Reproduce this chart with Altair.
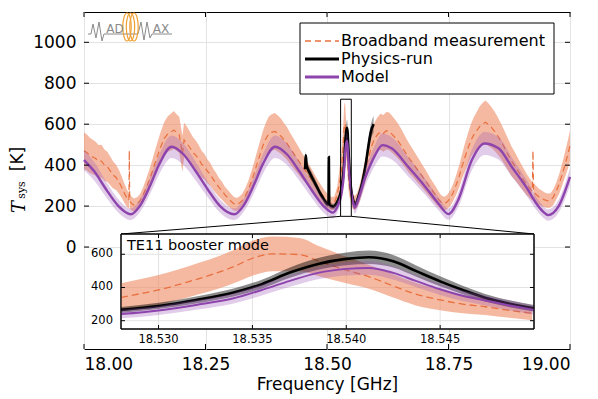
import altair as alt
import pandas as pd

# ---------------- data ----------------
model_f = [18.000, 18.021, 18.046, 18.071, 18.096, 18.116, 18.136, 18.156, 18.180, 18.205,
           18.230, 18.255, 18.280, 18.309, 18.329, 18.349, 18.369, 18.393, 18.418, 18.443,
           18.468, 18.493, 18.512, 18.520,
           18.5280, 18.5300, 18.5320, 18.5340, 18.5355, 18.5370, 18.5385, 18.5400, 18.5412,
           18.5425, 18.5437, 18.5450, 18.5462, 18.5474, 18.5487, 18.5500,
           18.553, 18.557, 18.567, 18.578, 18.589, 18.599, 18.614, 18.633, 18.667, 18.702,
           18.729, 18.750, 18.770, 18.798, 18.824, 18.853, 18.880, 18.914, 18.930, 18.945,
           18.955, 18.976, 19.000]
model_v = [425, 370, 280, 200, 160, 205, 300, 410, 490, 452,
           370, 280, 200, 160, 205, 300, 410, 490, 452, 370,
           280, 200, 168, 190,
           240, 262, 295, 335, 385, 440, 488, 512, 518,
           488, 440, 389, 350, 322, 292, 264,
           225, 192, 250, 335, 400, 449, 498, 482, 392, 295,
           213, 161, 230, 425, 506, 482, 392, 278, 215, 172,
           156, 197, 343]
model_e = [50, 45, 38, 32, 28, 32, 40, 48, 55, 52,
           45, 38, 32, 28, 32, 40, 48, 55, 52, 45,
           38, 32, 28, 28,
           26, 27, 29, 31, 33, 35, 38, 40, 41,
           40, 37, 34, 32, 30, 29, 28,
           28, 28, 32, 40, 46, 50, 56, 55, 47, 40,
           32, 28, 34, 50, 56, 55, 47, 38, 32, 29,
           28, 31, 42]

bb_f = [18.000, 18.006, 18.012, 18.018, 18.024, 18.030, 18.036, 18.042, 18.048, 18.054,
        18.060, 18.066, 18.072, 18.078, 18.084, 18.090, 18.0925, 18.0932, 18.0940, 18.098,
        18.103, 18.110, 18.116, 18.122, 18.128, 18.134, 18.140, 18.146, 18.152, 18.158,
        18.165, 18.172, 18.178, 18.185, 18.190, 18.196, 18.2025, 18.206, 18.212, 18.218,
        18.224, 18.230, 18.236, 18.242, 18.248, 18.254, 18.260, 18.266, 18.272, 18.278,
        18.284, 18.290, 18.296, 18.302, 18.308, 18.314, 18.320, 18.326, 18.332, 18.338,
        18.344, 18.350, 18.356, 18.362, 18.368, 18.374, 18.380, 18.386, 18.393, 18.400,
        18.406, 18.412, 18.418, 18.424, 18.430, 18.436, 18.442, 18.448, 18.455, 18.462,
        18.468, 18.475, 18.482, 18.489, 18.496, 18.503, 18.509, 18.515, 18.521,
        18.5280, 18.5290, 18.5300, 18.5310, 18.5322, 18.5333, 18.5340, 18.5350, 18.5361,
        18.5375, 18.5386, 18.5400, 18.5413, 18.5425, 18.5437, 18.5450, 18.5462, 18.5474,
        18.5487, 18.5499,
        18.553, 18.557, 18.562, 18.568, 18.574, 18.580, 18.586, 18.592, 18.598, 18.604,
        18.610, 18.616, 18.622, 18.628, 18.634, 18.640, 18.646, 18.652, 18.658, 18.664,
        18.670, 18.676, 18.682, 18.688, 18.694, 18.700, 18.706, 18.712, 18.718, 18.724,
        18.730, 18.736, 18.742, 18.748, 18.754, 18.760, 18.766, 18.772, 18.778, 18.784,
        18.790, 18.796, 18.802, 18.808, 18.814, 18.820, 18.826, 18.832, 18.838, 18.844,
        18.850, 18.856, 18.862, 18.868, 18.874, 18.880, 18.886, 18.892, 18.898, 18.904,
        18.910, 18.916, 18.9225, 18.9238, 18.9250, 18.930, 18.936, 18.942, 18.948, 18.954,
        18.960, 18.966, 18.972, 18.978, 18.984, 18.990, 18.996, 19.000]
bb_v = [470, 462, 448, 440, 432, 418, 420, 400, 392, 372,
        352, 340, 318, 290, 258, 232, 228, 470, 225, 212,
        205, 212, 228, 255, 290, 325, 365, 410, 450, 490,
        530, 552, 560, 572, 560, 548, 455, 523, 505, 485,
        462, 448, 430, 405, 392, 370, 355, 330, 312, 290,
        275, 255, 240, 225, 212, 208, 215, 228, 250, 280,
        318, 360, 405, 450, 495, 528, 552, 560, 565, 552,
        540, 522, 505, 482, 462, 440, 420, 398, 376, 352,
        330, 305, 280, 258, 238, 222, 212, 215, 255,
        340, 362, 385, 415, 455, 495, 525, 576, 602,
        598, 556, 505, 461, 409, 360, 325, 300, 284,
        262, 245,
        222, 215, 228, 268, 325, 385, 440, 495, 530, 550,
        563, 555, 568, 565, 550, 535, 518, 498, 475, 452,
        430, 412, 392, 372, 352, 332, 312, 290, 272, 252,
        232, 215, 212, 222, 240, 268, 305, 345, 395, 440,
        482, 520, 548, 568, 588, 600, 610, 598, 585, 568,
        548, 525, 500, 472, 445, 418, 398, 375, 352, 330,
        308, 290, 272, 470, 268, 258, 245, 238, 230, 226,
        228, 245, 275, 310, 355, 405, 455, 495]
bb_e = [90, 88, 86, 84, 82, 80, 80, 76, 74, 70,
        66, 62, 58, 52, 46, 40, 38, 20, 38, 34,
        32, 32, 34, 38, 44, 50, 56, 62, 68, 74,
        80, 86, 90, 92, 90, 88, 88, 84, 82, 78,
        75, 72, 68, 65, 62, 58, 56, 52, 50, 46,
        44, 40, 38, 36, 34, 32, 32, 34, 38, 42,
        48, 54, 60, 66, 72, 78, 84, 88, 90, 88,
        85, 82, 80, 76, 73, 70, 67, 64, 60, 56,
        52, 48, 44, 40, 36, 34, 32, 32, 40,
        85, 88, 90, 92, 95, 98, 100, 105, 105,
        100, 90, 80, 72, 70, 68, 62, 55, 50,
        45, 42,
        36, 34, 36, 42, 50, 58, 66, 74, 80, 84,
        88, 90, 92, 92, 90, 88, 85, 82, 78, 75,
        72, 68, 65, 62, 58, 55, 52, 48, 45, 42,
        38, 35, 34, 35, 38, 42, 48, 54, 60, 68,
        74, 80, 86, 92, 98, 104, 106, 104, 100, 96,
        92, 88, 84, 80, 76, 72, 68, 64, 60, 56,
        52, 48, 45, 20, 45, 42, 40, 38, 36, 35,
        35, 38, 42, 48, 55, 62, 70, 76]

phys_f = [18.455, 18.4565, 18.458, 18.465, 18.472, 18.479, 18.486, 18.493, 18.499, 18.503,
          18.5038, 18.5046, 18.509, 18.513, 18.518, 18.523,
          18.5280, 18.5300, 18.5320, 18.5340, 18.5355, 18.5370, 18.5385, 18.5400, 18.5412,
          18.5425, 18.5437, 18.5450, 18.5462, 18.5474, 18.5487, 18.5500,
          18.553, 18.558, 18.565, 18.570, 18.575, 18.580, 18.585, 18.590, 18.596]
phys_v = [380, 448, 400, 360, 327, 295, 262, 235, 213, 208,
          440, 208, 200, 197, 208, 230,
          265, 289, 325, 370, 420, 490, 542, 572, 582,
          558, 500, 437, 385, 338, 302, 275,
          238, 205, 250, 290, 343, 410, 490, 560, 600]
phys_e = [25, 20, 25, 24, 22, 20, 18, 16, 15, 15,
          10, 15, 14, 14, 15, 17,
          18, 19, 21, 24, 27, 31, 35, 38, 40,
          38, 34, 30, 26, 23, 21, 20,
          18, 16, 18, 22, 26, 30, 34, 38, 40]

x_domain = [18.0, 19.0]
y_domain = [-498, 1148]
x_ticks_main = [18.0, 18.25, 18.5, 18.75, 19.0]
y_ticks_main = [0, 200, 400, 600, 800, 1000]
inset_x_domain = [18.528, 18.550]
inset_y_domain = [150, 722]
x_ticks_inset = [18.530, 18.535, 18.540, 18.545]
y_ticks_inset = [200, 400, 600]
legend_labels = ["Broadband measurement", "Physics-run", "Model"]
inset_title = "TE11 booster mode"
x_title = "Frequency [GHz]"

# ---------------- styling ----------------
FONT = "DejaVu Sans"
C_BB = "#E8703F"
C_BB_BAND = "#EE8A62"
C_MODEL = "#8E44AD"
C_MODEL_BAND = "#9B59B6"
C_PHYS = "#000000"
W, H = 486, 337
IL, IR, IT, IB = 37, 450, 222, 317  # inset frame (pixels within plot area)


def mk(f, v, e):
    return pd.DataFrame({"f": f, "v": v, "lo": [a - b for a, b in zip(v, e)],
                         "hi": [a + b for a, b in zip(v, e)]})


df_model = mk(model_f, model_v, model_e)
df_bb = mk(bb_f, bb_v, bb_e)
df_phys = mk(phys_f, phys_v, phys_e)

MX = alt.Scale(domain=x_domain, nice=False, zero=False)
MY = alt.Scale(domain=y_domain, nice=False, zero=False)
IX = alt.Scale(domain=inset_x_domain, range=[IL, IR], nice=False, zero=False)
IY = alt.Scale(domain=inset_y_domain, range=[IB, IT], nice=False, zero=False)
inset_filter = alt.FieldRangePredicate(field="f", range=[18.5279, 18.5501])


def band(df, color, opacity, xs, ys, interp, filt=False, axes=False):
    c = alt.Chart(df)
    if filt:
        c = c.transform_filter(inset_filter)
    if axes:
        xax = alt.Axis(values=x_ticks_main, format=".2f", title=x_title, grid=True,
                       ticks=False, domain=False, labelFontSize=17, titleFontSize=17,
                       labelPadding=7, titlePadding=4, gridColor="#e3e3e3",
                       labelColor="black", titleColor="black", titleFontWeight="normal",
                       labelFont=FONT, titleFont=FONT)
        yax = alt.Axis(values=y_ticks_main, format="d", title=None, grid=True, ticks=False,
                       domain=False, labelFontSize=17, labelPadding=8,
                       gridColor="#e3e3e3", labelColor="black", labelFont=FONT)
    else:
        xax = None
        yax = None
    return c.mark_area(color=color, opacity=opacity, interpolate=interp).encode(
        x=alt.X("f:Q", scale=xs, axis=xax),
        y=alt.Y("lo:Q", scale=ys, axis=yax),
        y2="hi:Q",
    )


def line(df, color, width, xs, ys, interp, dash=None, filt=False):
    c = alt.Chart(df)
    if filt:
        c = c.transform_filter(inset_filter)
    kw = dict(color=color, strokeWidth=width, interpolate=interp)
    if dash:
        kw["strokeDash"] = dash
    return c.mark_line(**kw).encode(
        x=alt.X("f:Q", scale=xs, axis=None),
        y=alt.Y("v:Q", scale=ys, axis=None),
    )


def one(label):
    return pd.DataFrame({"label": [label]})


layers = []
# ---- main plot ----
layers.append(band(df_bb, C_BB_BAND, 0.6, MX, MY, "linear", axes=True))
layers.append(line(df_bb, C_BB, 1.2, MX, MY, "linear", dash=[6, 4]))
layers.append(band(df_phys, "#000000", 0.35, MX, MY, "monotone"))
layers.append(line(df_phys, C_PHYS, 2.6, MX, MY, "monotone"))
layers.append(band(df_model, C_MODEL_BAND, 0.3, MX, MY, "monotone"))
layers.append(line(df_model, C_MODEL, 2.4, MX, MY, "monotone"))

# zoom box and connectors
box_df = pd.DataFrame({"x1": [inset_x_domain[0]], "x2": [inset_x_domain[1]],
                       "y1": [inset_y_domain[0]], "y2": [inset_y_domain[1]]})
layers.append(alt.Chart(box_df).mark_rect(fill=None, stroke="black", strokeWidth=1).encode(
    x=alt.X("x1:Q", scale=MX, axis=None), x2="x2:Q",
    y=alt.Y("y1:Q", scale=MY, axis=None), y2="y2:Q"))
layers.append(alt.Chart(box_df).mark_rule(color="black", strokeWidth=1).encode(
    x=alt.X("x1:Q", scale=MX, axis=None), y=alt.Y("y1:Q", scale=MY, axis=None),
    x2=alt.value(IL), y2=alt.value(IT)))
layers.append(alt.Chart(box_df).mark_rule(color="black", strokeWidth=1).encode(
    x=alt.X("x2:Q", scale=MX, axis=None), y=alt.Y("y1:Q", scale=MY, axis=None),
    x2=alt.value(IR), y2=alt.value(IT)))

# main inward ticks
xt = pd.DataFrame({"t": x_ticks_main})
yt = pd.DataFrame({"t": y_ticks_main})
for y0, y1 in [(H, H - 5), (0, 5)]:
    layers.append(alt.Chart(xt).mark_rule(color="black", strokeWidth=1).encode(
        x=alt.X("t:Q", scale=MX, axis=None), y=alt.value(y0), y2=alt.value(y1)))
for x0, x1 in [(0, 5), (W, W - 5)]:
    layers.append(alt.Chart(yt).mark_rule(color="black", strokeWidth=1).encode(
        y=alt.Y("t:Q", scale=MY, axis=None), x=alt.value(x0), x2=alt.value(x1)))

# ---- legend ----
LX0, LX1, LY0, LY1 = 216, 470, 11, 82
rows = [29, 47, 65]
layers.append(alt.Chart(one("")).mark_rect(fill="white", stroke="black", strokeWidth=1).encode(
    x=alt.value(LX0), x2=alt.value(LX1), y=alt.value(LY0), y2=alt.value(LY1)))
sym = [(C_BB, 1.5, [6, 4]), (C_PHYS, 3, None), (C_MODEL, 3, None)]
for (col, sw, dash), ry, lab in zip(sym, rows, legend_labels):
    kw = dict(color=col, strokeWidth=sw)
    if dash:
        kw["strokeDash"] = dash
    layers.append(alt.Chart(one(lab)).mark_rule(**kw).encode(
        x=alt.value(221), x2=alt.value(255), y=alt.value(ry)))
    layers.append(alt.Chart(one(lab)).mark_text(
        align="left", baseline="middle", fontSize=16, font=FONT, color="black").encode(
        x=alt.value(257), y=alt.value(ry), text="label:N"))

# ---- inset ----
layers.append(alt.Chart(one("")).mark_rect(fill="white", stroke="black", strokeWidth=1).encode(
    x=alt.value(IL), x2=alt.value(IR), y=alt.value(IT), y2=alt.value(IB)))
ixt = pd.DataFrame({"t": x_ticks_inset})
iyt = pd.DataFrame({"t": y_ticks_inset})
layers.append(alt.Chart(ixt).mark_rule(color="#e3e3e3", strokeWidth=1).encode(
    x=alt.X("t:Q", scale=IX, axis=None), y=alt.value(IT), y2=alt.value(IB)))
layers.append(alt.Chart(iyt).mark_rule(color="#e3e3e3", strokeWidth=1).encode(
    y=alt.Y("t:Q", scale=IY, axis=None), x=alt.value(IL), x2=alt.value(IR)))
layers.append(band(df_bb, C_BB_BAND, 0.6, IX, IY, "monotone", filt=True))
layers.append(line(df_bb, C_BB, 1.3, IX, IY, "monotone", dash=[7, 4], filt=True))
layers.append(band(df_phys, "#000000", 0.45, IX, IY, "monotone", filt=True))
layers.append(line(df_phys, C_PHYS, 2.6, IX, IY, "monotone", filt=True))
layers.append(band(df_model, C_MODEL_BAND, 0.3, IX, IY, "monotone", filt=True))
layers.append(line(df_model, C_MODEL, 2.0, IX, IY, "monotone", filt=True))
layers.append(alt.Chart(one("")).mark_rect(fill=None, stroke="black", strokeWidth=1).encode(
    x=alt.value(IL), x2=alt.value(IR), y=alt.value(IT), y2=alt.value(IB)))
for y0, y1 in [(IB, IB - 4), (IT, IT + 4)]:
    layers.append(alt.Chart(ixt).mark_rule(color="black", strokeWidth=1).encode(
        x=alt.X("t:Q", scale=IX, axis=None), y=alt.value(y0), y2=alt.value(y1)))
for x0, x1 in [(IL, IL + 4), (IR, IR - 4)]:
    layers.append(alt.Chart(iyt).mark_rule(color="black", strokeWidth=1).encode(
        y=alt.Y("t:Q", scale=IY, axis=None), x=alt.value(x0), x2=alt.value(x1)))
layers.append(alt.Chart(ixt).mark_text(fontSize=11.5, font=FONT, baseline="top",
                                       align="center", color="black").encode(
    x=alt.X("t:Q", scale=IX, axis=None), y=alt.value(IB + 5),
    text=alt.Text("t:Q", format=".3f")))
layers.append(alt.Chart(iyt).mark_text(fontSize=11.5, font=FONT, baseline="middle",
                                       align="right", color="black").encode(
    y=alt.Y("t:Q", scale=IY, axis=None), x=alt.value(IL - 8),
    text=alt.Text("t:Q", format="d")))
layers.append(alt.Chart(one(inset_title)).mark_text(
    fontSize=14.5, font=FONT, align="left", baseline="alphabetic", color="black").encode(
    x=alt.value(IL + 6), y=alt.value(IT + 16), text="label:N"))

# ---- y-axis title (T_sys [K]) ----
layers.append(alt.Chart(one("[K]")).mark_text(
    fontSize=17, font=FONT, angle=270, align="center", baseline="middle", color="black").encode(
    x=alt.value(-66), y=alt.value(147), text="label:N"))
layers.append(alt.Chart(one("T")).mark_text(
    fontSize=18, font="DejaVu Serif", fontStyle="italic", angle=270, align="center",
    baseline="middle", color="black").encode(
    x=alt.value(-64), y=alt.value(195), text="label:N"))
layers.append(alt.Chart(one("sys")).mark_text(
    fontSize=11, font="DejaVu Serif", angle=270, align="center",
    baseline="middle", color="black").encode(
    x=alt.value(-62), y=alt.value(178), text="label:N"))

# ---- logo ----
zig = ("M -1 0.167 L -0.929 0.167 L -0.881 -0.071 L -0.81 0.262 L -0.738 -0.119 "
       "L -0.667 0.333 L -0.619 0.167 L 0.19 0.167 L 0.262 -0.119 L 0.333 0.31 "
       "L 0.405 -0.119 L 0.476 0.262 L 0.524 0.167 L 1 0.167")
layers.append(alt.Chart(one("logo")).mark_point(
    shape=zig, filled=False, stroke="#8a8a8a", strokeWidth=1, size=84 * 84, opacity=1).encode(
    x=alt.value(46), y=alt.value(15)))
ell = "M 0 -1 A 0.3 1 0 1 1 0 1 A 0.3 1 0 1 1 0 -1 Z"
for cx in [43, 46.5, 50]:
    layers.append(alt.Chart(one("coil")).mark_point(
        shape=ell, filled=False, stroke="#F0A030", strokeWidth=1.2, size=28 * 28,
        opacity=1).encode(x=alt.value(cx), y=alt.value(15)))
for lab, cx in [("AD", 31), ("AX", 77)]:
    layers.append(alt.Chart(one(lab)).mark_text(
        fontSize=12, font=FONT, color="#8a8a8a", align="center", baseline="alphabetic").encode(
        x=alt.value(cx), y=alt.value(21), text="label:N"))

chart = alt.layer(*layers).resolve_scale(x="independent", y="independent").properties(
    width=W, height=H,
    autosize=alt.AutoSizeParams(type="none"),
    padding={"left": 76, "top": 4, "right": 12, "bottom": 50},
).configure_view(stroke="black", strokeWidth=1)

chart.save("out.html", embed_options={"renderer": "svg", "actions": False})
